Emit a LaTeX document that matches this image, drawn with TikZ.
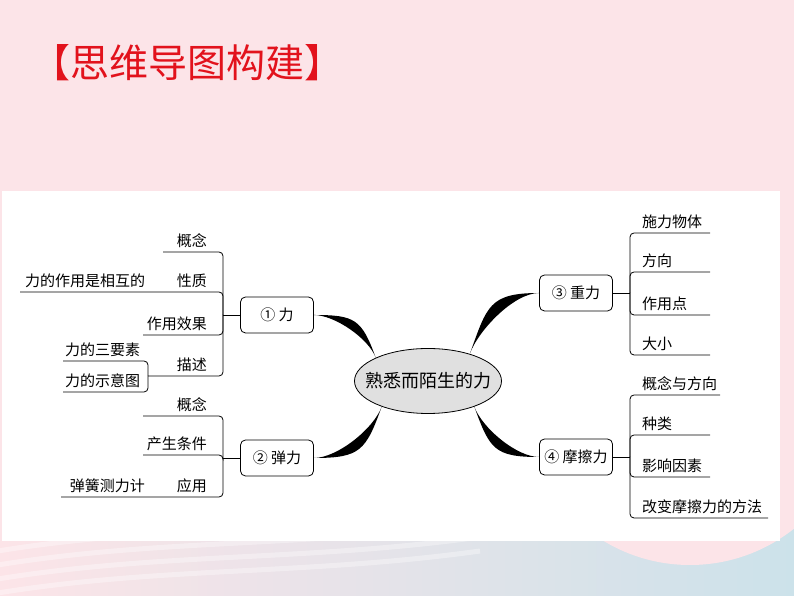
\documentclass[tikz,border=0pt]{standalone}
\usepackage{fontspec}
\setmainfont{Noto Sans CJK SC}
\usetikzlibrary{shapes.geometric}
\definecolor{bgpink}{RGB}{252,228,232}
\definecolor{bgblue}{RGB}{204,226,234}
\definecolor{titlered}{RGB}{226,18,28}
\tikzset{
  topic/.style={draw, rounded corners=5pt, line width=0.8pt, minimum width=73pt,
    minimum height=36pt, inner sep=0pt, font=\fontsize{15}{18}\selectfont},
  hubnode/.style={ellipse, draw, line width=0.8pt, fill=black!12,
    minimum width=147pt, minimum height=65pt, inner sep=0pt},
  item/.style={inner sep=0pt, font=\fontsize{15}{18}\selectfont},
  branch/.style={line width=0.8pt, rounded corners=4pt},
  taper/.style={fill=black},
}
\begin{document}
\begin{tikzpicture}[x=1pt,y=1pt]
\useasboundingbox (0,0) rectangle (794,596);
% background
\fill[bgpink] (0,0) rectangle (794,596);
\shade[left color=bgpink, right color=bgblue] (0,0) rectangle (794,75);
\begin{scope}
  \clip (0,0) rectangle (794,75);
  \foreach \d in {0,14,28,42} {
    \draw[white, opacity=0.35, line width=5pt]
      (-20,\d) .. controls (150,30+\d) and (300,20+\d) .. (480,45+\d);
  }
\end{scope}
\fill[bgpink] (690,198) circle (167);
\fill[white] (2,55) rectangle (780,405);

% title
\node[text=titlered, font=\fontsize{39}{45}\selectfont, inner sep=0pt] (title)
  at (187,533) {【思维导图构建】};

% hub and the four topics
\node[hubnode, label={[font=\fontsize{18}{22}\selectfont]center:熟悉而陌生的力}] (hub) at (428,215) {};
\node[topic] (li) at (277,281) {① 力};
\node[topic] (tanli) at (277,138) {② 弹力};
\node[topic] (zhongli) at (576,303) {③ 重力};
\node[topic] (moca) at (576,139) {④ 摩擦力};

% tapered links
\fill[taper] (li.east) to[out=0,in=110,looseness=1.4] (hub.156)
  to[out=110,in=0,looseness=0.7] (li.east);
\fill[taper] (tanli.east) to[out=0,in=250,looseness=1.4] (hub.209)
  to[out=250,in=0,looseness=0.7] (tanli.east);
\fill[taper] (zhongli.west) to[out=180,in=70,looseness=1.4] (hub.33)
  to[out=70,in=180,looseness=0.7] (zhongli.west);
\fill[taper] (moca.west) to[out=180,in=290,looseness=1.4] (hub.331)
  to[out=290,in=180,looseness=0.7] (moca.west);

% junctions
\coordinate (j1) at (223,281);
\coordinate (j2) at (223,138);
\coordinate (j3) at (630,303);
\coordinate (j4) at (630,139);
\draw[branch] (li.west) -- (j1);
\draw[branch] (tanli.west) -- (j2);
\draw[branch] (zhongli.east) -- (j3);
\draw[branch] (moca.east) -- (j4);

% ① 力
\foreach \nm/\y/\xl/\txt in {a/344/163/概念, b/304/20/性质, c/261/143/作用效果, d/220/148/描述} {
  \coordinate (l1\nm) at (\xl,\y);
  \coordinate (r1\nm) at (223,\y);
  \node[item, anchor=east] (t1\nm) at (207,\y+11.5) {\txt};
  \draw[branch] (l1\nm) -- (r1\nm) -- (j1);
}
\node[item, anchor=west] (t1e) at (25,315.5) {力的作用是相互的};
\foreach \nm/\y/\txt in {a/235/力的三要素, b/204/力的示意图} {
  \coordinate (sl\nm) at (63,\y);
  \coordinate (sr\nm) at (148,\y);
  \node[item, anchor=west] (st\nm) at (65,\y+11.5) {\txt};
  \draw[branch] (sl\nm) -- (sr\nm) -- (l1d);
}

% ② 弹力
\foreach \nm/\y/\xl/\txt in {a/180/143/概念, b/141/143/产生条件, c/99/61/应用} {
  \coordinate (l2\nm) at (\xl,\y);
  \coordinate (r2\nm) at (223,\y);
  \node[item, anchor=east] (t2\nm) at (207,\y+11.5) {\txt};
  \draw[branch] (l2\nm) -- (r2\nm) -- (j2);
}
\node[item, anchor=east] (t2d) at (145,110.5) {弹簧测力计};

% ③ 重力
\foreach \nm/\y/\xr/\txt in {a/363/710/施力物体, b/324/710/方向, c/281/710/作用点, d/241/710/大小} {
  \coordinate (l3\nm) at (630,\y);
  \coordinate (r3\nm) at (\xr,\y);
  \node[item, anchor=west] (t3\nm) at (642,\y+11) {\txt};
  \draw[branch] (r3\nm) -- (l3\nm) -- (j3);
}

% ④ 摩擦力
\foreach \nm/\y/\xr/\txt in {a/201/720/概念与方向, b/161/710/种类, c/119/710/影响因素, d/78/768/改变摩擦力的方法} {
  \coordinate (l4\nm) at (630,\y);
  \coordinate (r4\nm) at (\xr,\y);
  \node[item, anchor=west] (t4\nm) at (642,\y+11) {\txt};
  \draw[branch] (r4\nm) -- (l4\nm) -- (j4);
}
\end{tikzpicture}
\end{document}
